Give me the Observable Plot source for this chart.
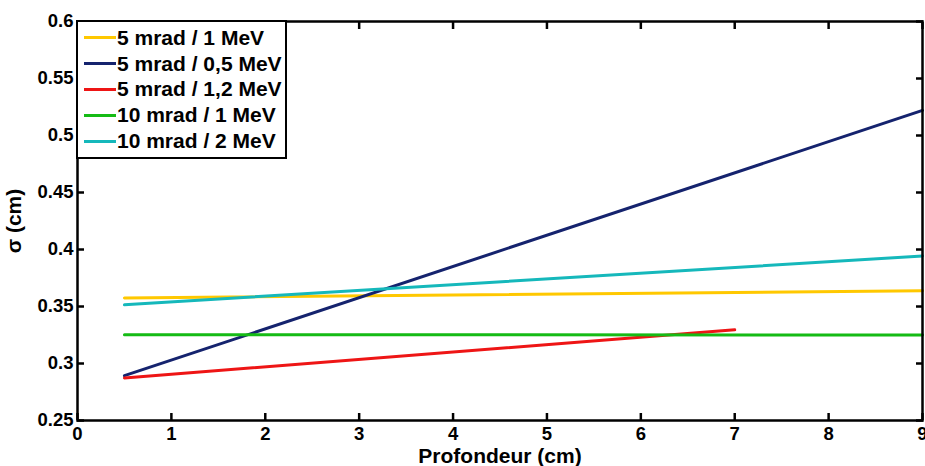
<!DOCTYPE html>
<html>
<head>
<meta charset="utf-8">
<script src="https://cdn.jsdelivr.net/npm/d3@7"></script>
<script src="https://cdn.jsdelivr.net/npm/@observablehq/plot@0.6"></script>
<style>
  html, body { margin: 0; padding: 0; background: #fff; }
  #wrap { position: relative; width: 925px; height: 466px; overflow: hidden; font-family: "Liberation Sans", Arial, sans-serif; font-weight: bold; }
  #legend { position: absolute; left: 76px; top: 20px; width: 207px; height: 132px; border: 2.5px solid #000; background: #fff; box-sizing: content-box; padding-top: 3px; }
  .row { height: 25.8px; display: flex; align-items: center; font-size: 21px; color: #000; white-space: nowrap; }
  .sw { width: 32px; height: 3px; margin-left: 6px; margin-right: 1px; }
</style>
</head>
<body>
<div id="wrap"><div id="legend"></div></div>
<script>
// Series (legend order)
const seriesNames = ["5 mrad / 1 MeV", "5 mrad / 0,5 MeV", "5 mrad / 1,2 MeV", "10 mrad / 1 MeV", "10 mrad / 2 MeV"];
const seriesColors = ["#ffc800", "#15236e", "#ee1515", "#15bb15", "#15b8bb"];
// x values (Profondeur, cm) and sigma values (cm) for each series
const xYellow = [0.5, 9];
const yYellow = [0.3575, 0.3638];
const xNavy = [0.5, 9];
const yNavy = [0.2893, 0.522];
const xRed = [0.5, 7];
const yRed = [0.2873, 0.3295];
const xGreen = [0.5, 9];
const yGreen = [0.3253, 0.325];
const xCyan = [0.5, 9];
const yCyan = [0.3515, 0.3943];

const xTicks = [0, 1, 2, 3, 4, 5, 6, 7, 8, 9];
const yTicks = [0.25, 0.3, 0.35, 0.4, 0.45, 0.5, 0.55, 0.6];
const yTickLabels = ["0.25", "0.3", "0.35", "0.4", "0.45", "0.5", "0.55", "0.6"];

const xs = [xYellow, xNavy, xRed, xGreen, xCyan];
const ys = [yYellow, yNavy, yRed, yGreen, yCyan];
const data = [];
seriesNames.forEach((name, i) => {
  xs[i].forEach((x, j) => data.push({series: name, x, y: ys[i][j]}));
});

const chart = Plot.plot({
  width: 925,
  height: 466,
  marginLeft: 77,
  marginRight: 3,
  marginTop: 21,
  marginBottom: 46,
  style: {fontFamily: "Liberation Sans, Arial, sans-serif", fontSize: "18.5px", fontWeight: "bold", color: "#000", background: "#fff"},
  x: {domain: [0, 9]},
  y: {domain: [0.25, 0.6]},
  color: {domain: seriesNames, range: seriesColors},
  marks: [
    Plot.line(data, {x: "x", y: "y", z: "series", stroke: "series", strokeWidth: 3}),
    Plot.frame({stroke: "#000", strokeWidth: 2.5}),
    Plot.axisX({ticks: xTicks, tickSize: -7, tickPadding: 13, strokeWidth: 2.5, label: null}),
    Plot.axisX({ticks: [], label: "Profondeur (cm)", labelAnchor: "center", labelOffset: 42, labelArrow: "none", fontSize: 21}),
    Plot.axisX({anchor: "top", ticks: xTicks, tickSize: -7, tickFormat: () => "", strokeWidth: 2.5, label: null}),
    Plot.axisY({ticks: yTicks, tickSize: -7, tickPadding: 11, strokeWidth: 2.5, tickFormat: (d) => yTickLabels[yTicks.indexOf(d)], label: null}),
    Plot.axisY({ticks: [], label: "σ (cm)", labelAnchor: "center", labelOffset: 71, labelArrow: "none", fontSize: 21}),
    Plot.axisY({anchor: "right", ticks: yTicks, tickSize: -7, tickFormat: () => "", strokeWidth: 2.5, label: null})
  ]
});
const wrap = document.getElementById("wrap");
wrap.insertBefore(chart, wrap.firstChild);

const legend = document.getElementById("legend");
seriesNames.forEach((name, i) => {
  const row = document.createElement("div");
  row.className = "row";
  const sw = document.createElement("span");
  sw.className = "sw";
  sw.style.background = seriesColors[i];
  const t = document.createElement("span");
  t.textContent = name;
  row.appendChild(sw);
  row.appendChild(t);
  legend.appendChild(row);
});
</script>
</body>
</html>
